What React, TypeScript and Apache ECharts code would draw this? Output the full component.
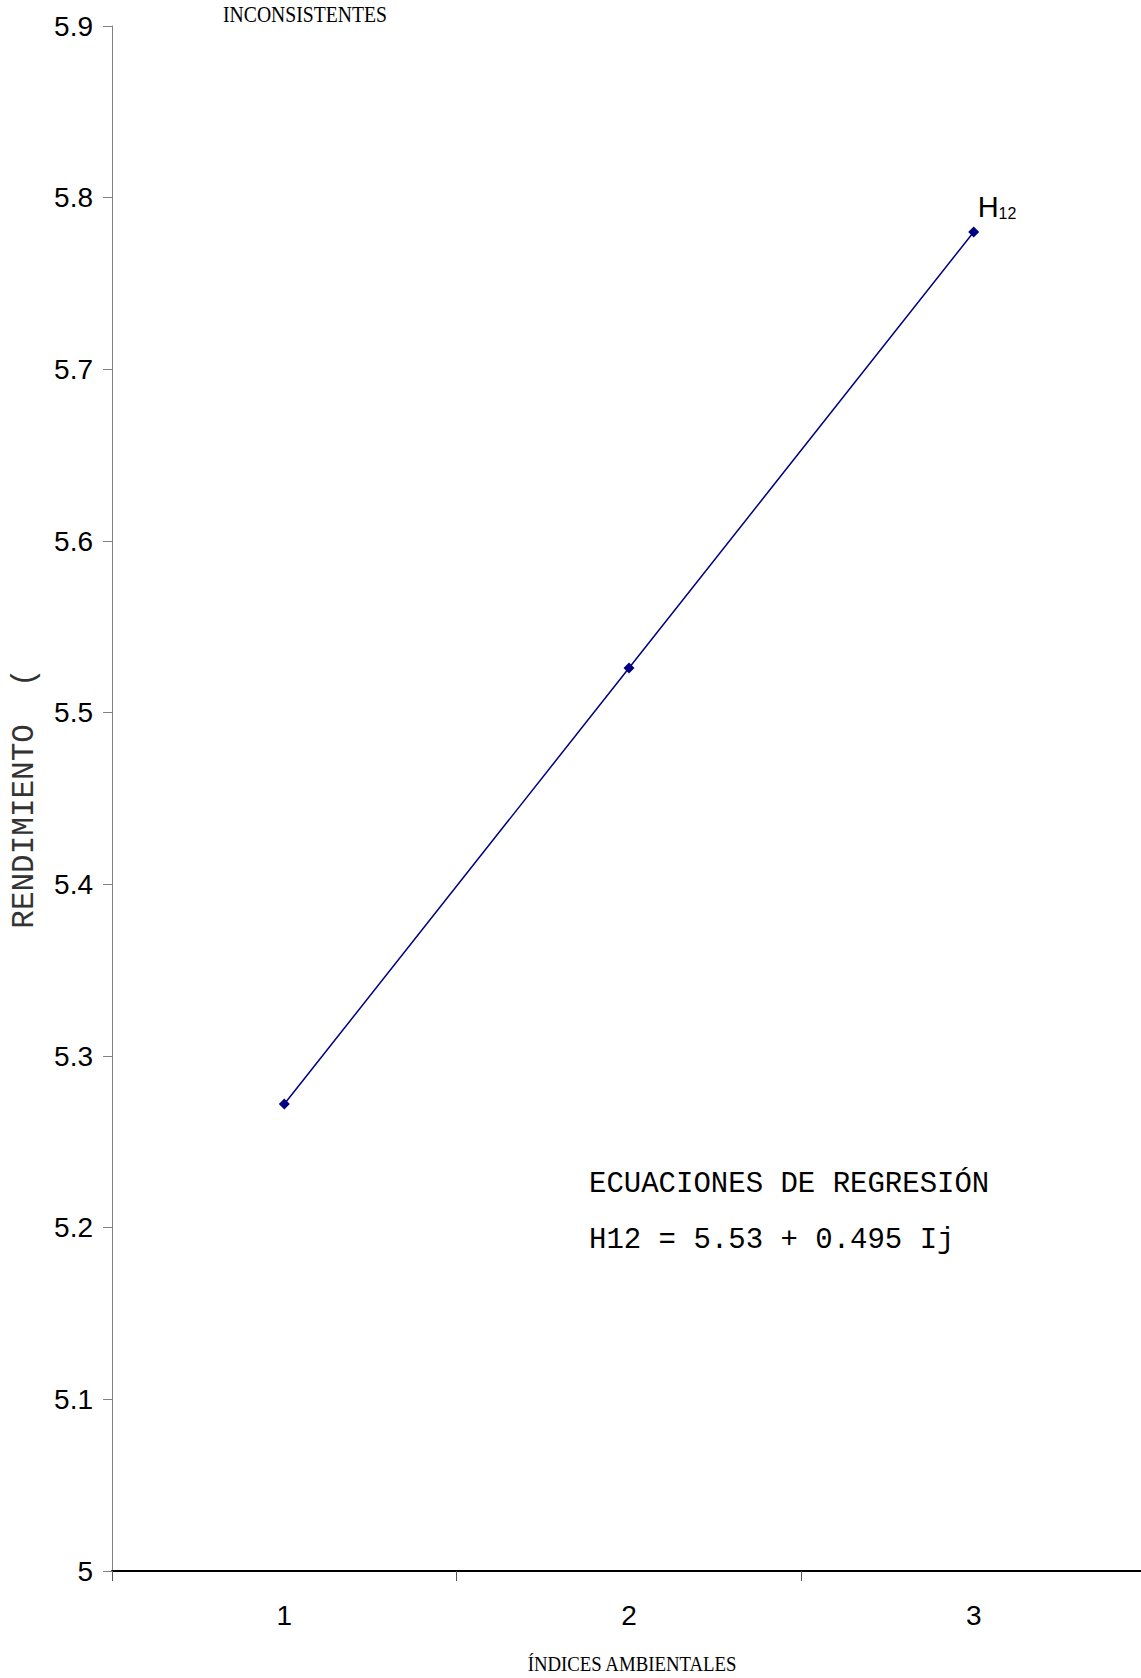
import React, { useEffect, useRef } from "react";
import * as echarts from "echarts";

const categories = ["1", "2", "3"];
const rendimiento = [5.272, 5.526, 5.78];
const yMin = 5;
const yMax = 5.9;
const yInterval = 0.1;
const titleText = "INCONSISTENTES";
const xName = "ÍNDICES AMBIENTALES";
const yName = "RENDIMIENTO  (";
const eqTitle = "ECUACIONES DE REGRESIÓN";
const eqLine = "H12 = 5.53 + 0.495 Ij";
const seriesLabel = "{h|H}{s|12}";

export default function App() {
  const ref = useRef<HTMLDivElement>(null);
  useEffect(() => {
    document.body.style.margin = "0";
    const chart = echarts.init(ref.current!, null, { renderer: "svg" });
    const data = rendimiento.map((v, i) =>
      i === rendimiento.length - 1
        ? {
            value: v,
            label: {
              show: true,
              position: "top",
              align: "left",
              verticalAlign: "bottom",
              distance: 5,
              offset: [4, 0],
              formatter: seriesLabel,
              rich: {
                h: { fontFamily: "Liberation Sans", fontSize: 29, color: "#000", verticalAlign: "bottom", lineHeight: 29 },
                s: { fontFamily: "Liberation Sans", fontSize: 16, color: "#000", verticalAlign: "bottom", lineHeight: 20 },
              },
            },
          }
        : v
    );
    chart.setOption({
      animation: false,
      backgroundColor: "#ffffff",
      grid: { left: 112, width: 1034, top: 26, bottom: 107, containLabel: false, outerBoundsMode: "none" },
      xAxis: {
        type: "category",
        data: categories,
        boundaryGap: true,
        axisLine: { show: true, lineStyle: { color: "#000", width: 2 } },
        axisTick: { show: true, length: 10, alignWithLabel: false, lineStyle: { color: "#555", width: 1 } },
        axisLabel: { fontFamily: "Liberation Sans", fontSize: 28, color: "#000", margin: 30 },
        splitLine: { show: false },
      },
      yAxis: {
        type: "value",
        min: yMin,
        max: yMax,
        interval: yInterval,
        name: yName,
        nameLocation: "middle",
        nameRotate: 90,
        nameGap: 72,
        nameTextStyle: { fontFamily: "Liberation Mono", fontSize: 31, color: "#333" },
        axisLine: { show: true, lineStyle: { color: "#808080", width: 1 } },
        axisTick: { show: true, length: 9, lineStyle: { color: "#808080" } },
        axisLabel: { fontFamily: "Liberation Sans", fontSize: 28, color: "#000", margin: 19 },
        splitLine: { show: false },
      },
      series: [
        {
          type: "line",
          data,
          symbol: "diamond",
          symbolSize: 11,
          lineStyle: { color: "#000080", width: 1.5 },
          itemStyle: { color: "#000080" },
        },
      ],
      graphic: [
        {
          type: "text",
          x: 223,
          y: 2,
          scaleX: 0.82,
          style: { text: titleText, font: "24px 'Liberation Serif'", fill: "#000", align: "left", verticalAlign: "top" },
        },
        {
          type: "text",
          x: 632,
          y: 1664,
          scaleX: 0.94,
          style: { text: xName, font: "20px 'Liberation Serif'", fill: "#000", align: "center", verticalAlign: "middle" },
        },
        {
          type: "text",
          x: 589,
          y: 1170,
          style: { text: eqTitle, font: "29px 'Liberation Mono'", fill: "#000", align: "left", verticalAlign: "top" },
        },
        {
          type: "text",
          x: 589,
          y: 1226,
          style: { text: eqLine, font: "29px 'Liberation Mono'", fill: "#000", align: "left", verticalAlign: "top" },
        },
      ],
    });
    return () => chart.dispose();
  }, []);
  return <div ref={ref} style={{ width: 1141, height: 1678 }} />;
}
